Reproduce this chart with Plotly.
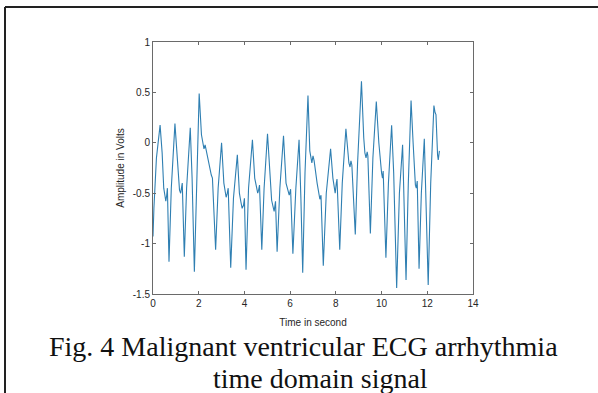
import plotly.graph_objects as go

# ECG trace key points (time in s, amplitude in V)
time_s = [0.00, 0.04, 0.15, 0.31, 0.40, 0.47, 0.52, 0.56, 0.60, 0.63, 0.70,
          0.80, 0.96, 1.04, 1.11, 1.16, 1.21, 1.25, 1.28, 1.37,
          1.47, 1.63, 1.71, 1.81,
          1.90, 2.02, 2.12, 2.18, 2.23, 2.28, 2.33, 2.45, 2.55, 2.60, 2.74,
          2.85, 3.00, 3.10, 3.15, 3.20, 3.25, 3.29, 3.40,
          3.52, 3.69, 3.78, 3.84, 3.90, 3.96, 4.00, 4.07,
          4.18, 4.35, 4.45, 4.53, 4.58, 4.62, 4.66, 4.76,
          4.86, 5.01, 5.12, 5.19, 5.25, 5.30, 5.36, 5.43,
          5.55, 5.71, 5.82, 5.90, 5.96, 6.02, 6.12,
          6.25, 6.39, 6.47, 6.55,
          6.65, 6.78, 6.86, 6.90, 6.95, 7.00, 7.05, 7.18, 7.25, 7.30, 7.35, 7.45,
          7.58, 7.77, 7.87, 7.92, 7.97, 8.02, 8.05, 8.17,
          8.28, 8.44, 8.52, 8.57, 8.62, 8.66, 8.70, 8.85,
          8.95, 9.12, 9.22, 9.27, 9.32, 9.37, 9.40, 9.51,
          9.62, 9.77, 9.88, 9.95, 10.00, 10.04, 10.07, 10.19,
          10.30, 10.44, 10.53, 10.66,
          10.78, 10.92, 11.07,
          11.17, 11.29, 11.38, 11.44, 11.48, 11.52, 11.56, 11.64,
          11.74, 11.87, 12.04,
          12.15, 12.29, 12.34, 12.38, 12.45, 12.48, 12.53]
amplitude_v = [-0.93, -0.65, -0.15, 0.175, -0.10, -0.45, -0.52, -0.58, -0.52, -0.45, -1.18,
               -0.45, 0.19, -0.12, -0.38, -0.47, -0.50, -0.43, -0.40, -1.13,
               -0.45, 0.15, -0.35, -1.28,
               -0.40, 0.49, 0.08, 0.02, -0.06, -0.02, -0.08, -0.22, -0.32, -0.35, -1.06,
               -0.45, 0.00, -0.40, -0.47, -0.54, -0.50, -0.45, -1.24,
               -0.55, -0.12, -0.50, -0.58, -0.65, -0.62, -0.55, -1.26,
               -0.45, 0.03, -0.35, -0.44, -0.50, -0.47, -0.42, -1.06,
               -0.45, 0.09, -0.40, -0.57, -0.63, -0.68, -0.58, -1.08,
               -0.45, 0.07, -0.40, -0.47, -0.52, -0.46, -1.10,
               -0.45, 0.03, -0.55, -1.29,
               -0.30, 0.47, -0.08, -0.14, -0.20, -0.13, -0.18, -0.40, -0.50, -0.56, -0.52, -1.22,
               -0.50, -0.06, -0.35, -0.44, -0.50, -0.40, -0.36, -1.06,
               -0.40, 0.14, -0.10, -0.20, -0.24, -0.18, -0.22, -0.91,
               -0.20, 0.61, 0.05, -0.10, -0.15, -0.09, -0.13, -0.90,
               -0.15, 0.41, 0.00, -0.22, -0.30, -0.35, -0.28, -1.14,
               -0.40, 0.175, -0.30, -1.44,
               -0.50, -0.02, -1.36,
               -0.40, 0.42, 0.00, -0.35, -0.42, -0.45, -0.38, -1.25,
               -0.50, 0.04, -1.41,
               -0.40, 0.37, 0.30, 0.28, -0.12, -0.17, -0.08]

x_ticks = [0, 2, 4, 6, 8, 10, 12, 14]
x_tick_labels = ["0", "2", "4", "6", "8", "10", "12", "14"]
y_ticks = [-1.5, -1.0, -0.5, 0.0, 0.5, 1.0]
y_tick_labels = ["-1.5", "-1", "-0.5", "0", "0.5", "1"]

x_title = "Time in second"
y_title = "Amplitude in Volts"
caption_line1 = "Fig. 4 Malignant ventricular ECG arrhythmia"
caption_line2 = "time domain signal"

W, H = 598, 393
L, R, T, B = 153, 473, 42, 294


def px_x(p):
    return (p - L) / (R - L)


def px_y(p):
    return (B - p) / (B - T)


fig = go.Figure()
fig.add_trace(go.Scatter(x=time_s, y=amplitude_v, mode="lines",
                         line=dict(color="#2f7fb2", width=1.1), showlegend=False,
                         hoverinfo="skip"))

axis_common = dict(
    showgrid=False, zeroline=False, showline=True, linecolor="#6a6a6a", linewidth=1,
    mirror="ticks", ticks="inside", ticklen=3, tickcolor="#6a6a6a", tickwidth=1,
    tickfont=dict(family="Liberation Sans, Arial, sans-serif", size=10, color="#262626"),
)

fig.update_layout(
    width=W, height=H,
    margin=dict(l=L, r=W - R, t=T, b=H - B),
    paper_bgcolor="white", plot_bgcolor="white",
    xaxis=dict(range=[0, 14], tickvals=x_ticks, ticktext=x_tick_labels,
               title=dict(text=x_title, standoff=10,
                          font=dict(family="Liberation Sans, Arial, sans-serif", size=10, color="#262626")),
               **axis_common),
    yaxis=dict(range=[-1.5, 1], tickvals=y_ticks, ticktext=y_tick_labels,
               title=dict(text=y_title, standoff=6,
                          font=dict(family="Liberation Sans, Arial, sans-serif", size=10, color="#262626")),
               **axis_common),
    annotations=[
        dict(text=caption_line1, xref="paper", yref="paper", x=px_x(303), y=px_y(346),
             xanchor="center", yanchor="middle", showarrow=False,
             font=dict(family="Liberation Serif, Times New Roman, serif", size=28, color="#111111")),
        dict(text=caption_line2, xref="paper", yref="paper", x=px_x(320), y=px_y(378),
             xanchor="center", yanchor="middle", showarrow=False,
             font=dict(family="Liberation Serif, Times New Roman, serif", size=28, color="#111111")),
    ],
    shapes=[
        dict(type="line", xref="paper", yref="paper", x0=px_x(5), x1=px_x(600),
             y0=px_y(7), y1=px_y(7), line=dict(color="#222222", width=2)),
        dict(type="line", xref="paper", yref="paper", x0=px_x(5), x1=px_x(5),
             y0=px_y(7), y1=px_y(396), line=dict(color="#222222", width=2)),
    ],
)

fig.write_html("out.html",
               config={"displayModeBar": False, "staticPlot": True},
               post_script="document.body.style.margin='0';document.body.style.overflow='hidden';")
